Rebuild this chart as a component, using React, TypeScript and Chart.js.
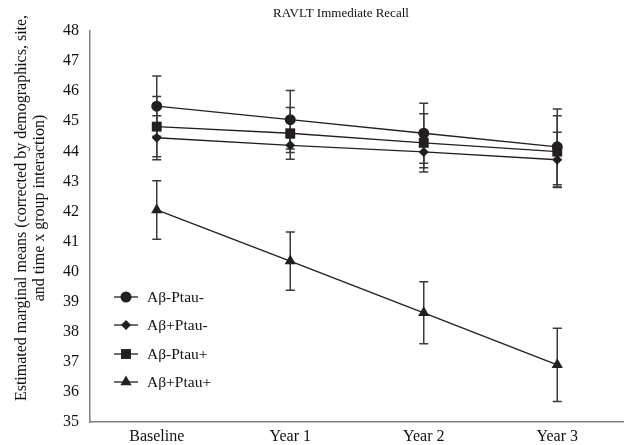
import React, { useEffect, useRef } from 'react';
import { Chart, registerables } from 'chart.js';

Chart.register(...registerables);

const chartTitle = 'RAVLT Immediate Recall';
const yAxisTitle = ['Estimated marginal means (corrected by demographics, site,', 'and time x group interaction)'];
const categories = ['Baseline', 'Year 1', 'Year 2', 'Year 3'];
const seriesNames = ['Aβ-Ptau-', 'Aβ+Ptau-', 'Aβ-Ptau+', 'Aβ+Ptau+'];
const pointStyles = ['circle', 'rectRot', 'rect', 'triangle'];
const pointRadii = [5.5, 5, 7, 6.5];

const abNegPtauNeg = [45.5, 45.05, 44.6, 44.15];
const abPosPtauNeg = [44.45, 44.2, 43.98, 43.72];
const abNegPtauPos = [44.82, 44.6, 44.28, 43.99];
const abPosPtauPos = [42.05, 40.35, 38.63, 36.9];

const errAbNegPtauNeg = [1.0, 0.97, 1.0, 1.26];
const errAbPosPtauNeg = [0.73, 0.24, 0.53, 0.91];
const errAbNegPtauPos = [1.0, 0.86, 0.97, 1.19];
const errAbPosPtauPos = [0.97, 0.97, 1.03, 1.22];

const yMin = 35;
const yMax = 48;
const yStep = 1;

const seriesValues = [abNegPtauNeg, abPosPtauNeg, abNegPtauPos, abPosPtauPos];
const seriesErrors = [errAbNegPtauNeg, errAbPosPtauNeg, errAbNegPtauPos, errAbPosPtauPos];

const INK = '#231f20';
const BAR = '#3a3a3a';
const AXIS = '#7f7f7f';
const FONT = '"Liberation Serif", "Times New Roman", serif';

function drawMarker(ctx: CanvasRenderingContext2D, style: string, x: number, y: number, r: number) {
  ctx.beginPath();
  if (style === 'circle') {
    ctx.arc(x, y, r, 0, Math.PI * 2);
  } else if (style === 'rect') {
    const s = Math.SQRT1_2 * r;
    ctx.rect(x - s, y - s, 2 * s, 2 * s);
  } else if (style === 'rectRot') {
    ctx.moveTo(x - r, y);
    ctx.lineTo(x, y - r);
    ctx.lineTo(x + r, y);
    ctx.lineTo(x, y + r);
    ctx.closePath();
  } else {
    ctx.moveTo(x, y - r);
    ctx.lineTo(x + Math.sin(Math.PI / 3) * r, y + r / 2);
    ctx.lineTo(x - Math.sin(Math.PI / 3) * r, y + r / 2);
    ctx.closePath();
  }
  ctx.fillStyle = INK;
  ctx.fill();
}

const errorBarPlugin = {
  id: 'errorBars',
  beforeDatasetsDraw(chart: any) {
    const ctx = chart.ctx;
    const yScale = chart.scales.y;
    ctx.save();
    ctx.strokeStyle = BAR;
    ctx.lineWidth = 1.5;
    chart.data.datasets.forEach((ds: any, i: number) => {
      const meta = chart.getDatasetMeta(i);
      const errs = seriesErrors[i];
      meta.data.forEach((pt: any, j: number) => {
        const v = ds.data[j];
        const e = errs[j];
        const x = pt.x;
        const yt = yScale.getPixelForValue(v + e);
        const yb = yScale.getPixelForValue(v - e);
        ctx.beginPath();
        ctx.moveTo(x, yt);
        ctx.lineTo(x, yb);
        ctx.moveTo(x - 4.5, yt);
        ctx.lineTo(x + 4.5, yt);
        ctx.moveTo(x - 4.5, yb);
        ctx.lineTo(x + 4.5, yb);
        ctx.stroke();
      });
    });
    ctx.restore();
  },
};

const textPlugin = {
  id: 'texts',
  afterDraw(chart: any) {
    const ctx = chart.ctx;
    const area = chart.chartArea;
    ctx.save();
    // Title
    ctx.fillStyle = '#111';
    ctx.font = `13px ${FONT}`;
    ctx.textAlign = 'center';
    ctx.textBaseline = 'middle';
    ctx.fillText(chartTitle, 341, 14);
    // Y axis title
    ctx.font = `16px ${FONT}`;
    const lineXs = [22, 40];
    yAxisTitle.forEach((line, k) => {
      ctx.save();
      ctx.translate(lineXs[k], 208);
      ctx.rotate(-Math.PI / 2);
      ctx.fillText(line, 0, 0);
      ctx.restore();
    });
    // Legend
    const rowYs = [-125, -97, -68, -40];
    ctx.textAlign = 'left';
    ctx.font = `15.5px ${FONT}`;
    chart.data.datasets.forEach((ds: any, i: number) => {
      const y = area.bottom + rowYs[i];
      const x0 = area.left + 24;
      const x1 = area.left + 48;
      ctx.strokeStyle = INK;
      ctx.lineWidth = 1.3;
      ctx.beginPath();
      ctx.moveTo(x0, y);
      ctx.lineTo(x1, y);
      ctx.stroke();
      drawMarker(ctx, pointStyles[i], (x0 + x1) / 2, y, pointRadii[i]);
      ctx.fillStyle = '#111';
      ctx.fillText(seriesNames[i], area.left + 57, y + 1);
    });
    ctx.restore();
  },
};

export default function App() {
  const ref = useRef<HTMLCanvasElement | null>(null);

  useEffect(() => {
    document.body.style.margin = '0';
    document.body.style.overflow = 'hidden';
    if (!ref.current) return;
    const chart = new Chart(ref.current, {
      type: 'line',
      data: {
        labels: categories,
        datasets: seriesNames.map((name, i) => ({
          label: name,
          data: seriesValues[i],
          borderColor: INK,
          borderWidth: 1.3,
          backgroundColor: INK,
          pointBackgroundColor: INK,
          pointBorderColor: INK,
          pointBorderWidth: 0,
          pointStyle: pointStyles[i] as any,
          pointRadius: pointRadii[i],
          tension: 0,
          fill: false,
          clip: false as any,
        })),
      },
      options: {
        animation: false,
        responsive: true,
        maintainAspectRatio: false,
        layout: { autoPadding: false, padding: { top: 31, left: 0, right: 0, bottom: 0 } },
        plugins: {
          legend: { display: false },
          title: { display: false },
          tooltip: { enabled: false },
        },
        scales: {
          x: {
            type: 'category',
            offset: true,
            grid: { display: false, drawTicks: false },
            border: { display: true, color: AXIS, width: 1.5 },
            ticks: { color: '#111', font: { family: FONT, size: 16 }, padding: 5, maxRotation: 0 },
            afterFit: (s: any) => {
              s.height = 23;
              s.paddingLeft = 0;
              s.paddingRight = 0;
            },
          },
          y: {
            min: yMin,
            max: yMax,
            grid: { display: false, drawTicks: false },
            border: { display: true, color: AXIS, width: 1.5 },
            ticks: { stepSize: yStep, color: '#111', font: { family: FONT, size: 16 }, padding: 11 },
            afterFit: (s: any) => { s.width = 90; },
          },
        },
      },
      plugins: [errorBarPlugin, textPlugin],
    });
    return () => chart.destroy();
  }, []);

  return (
    <div style={{ width: 624, height: 445, position: 'relative', overflow: 'hidden' }}>
      <canvas ref={ref} style={{ display: 'block' }} />
    </div>
  );
}
